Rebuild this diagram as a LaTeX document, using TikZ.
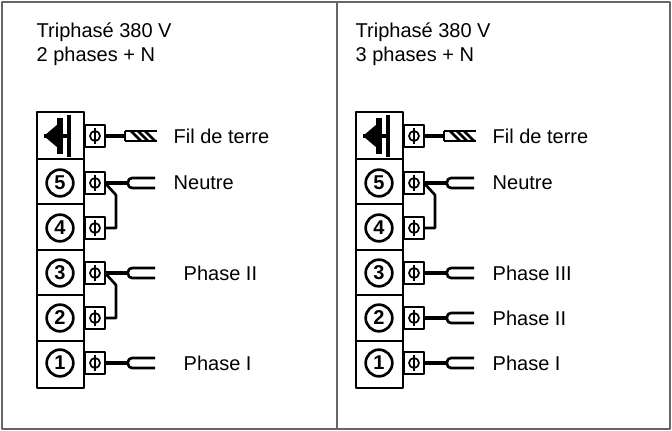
\documentclass[tikz,border=0pt]{standalone}
\usepackage{fontspec}
\setmainfont{Liberation Sans}
\begin{document}
\begin{tikzpicture}[x=0.75pt,y=-0.75pt,line join=round,
  frame/.style={draw=black!60,line width=1.2pt},
  blk/.style={draw,line width=1.8pt},
  num/.style={circle,draw,line width=2pt,inner sep=0pt,minimum size=20pt,font=\bfseries\fontsize{15}{15}\selectfont},
  lbl/.style={anchor=west,font=\fontsize{15}{17}\selectfont},
  ttl/.style={anchor=north west,align=left,font=\fontsize{15}{18}\selectfont},
  wire/.style={line width=3pt},
  jump/.style={line width=2pt}]
\useasboundingbox (0,0) rectangle (672,431);
\draw[frame] (2,2) rectangle (670,429);
\draw[frame] (337,2) -- (337,429);
\newcommand{\panel}[6]{%
 \begin{scope}[xshift=#1*0.75pt]
 \node[ttl] (t#6) at (32,18) {Triphasé 380 V\\#2};
 \draw[blk] (37,112) rectangle (84,388);
 \foreach \y in {159,204,250,295,341} \draw[blk] (37,\y) -- (84,\y);
 % earth symbol
 \fill (44,136) -- (58,124) -- (58,148) -- cycle;
 \fill (57,118) rectangle (63,154);
 \fill (67,115) rectangle (71,157);
 \fill (44,134) rectangle (71,138);
 \foreach \n/\y in {5/183,4/228,3/273,2/318,1/363}{
   \node[num] (n\n#6) at (60,\y) {\n};}
 \foreach \y in {136,183,228,273,318,363}{
   \draw[line width=1.8pt,fill=white] (85,\y-11) rectangle (105,\y+11);
   \draw[line width=1.3pt] (95,\y) circle (5);
   \draw[line width=1.3pt] (95,\y-8) -- (95,\y+8);}
 % earth cable
 \draw[wire] (105,136) -- (125,136);
 \draw[line width=1.5pt] (125,131) -- (157,131) (125,141) -- (157,141) (125,131)--(125,141);
 \foreach \xx in {131,138,145} \draw[line width=2pt] (\xx,131) -- (\xx+10,141);
 #3
 \node[lbl] (a#6) at (#4,136) {Fil de terre};
 #5
 \end{scope}}
\newcommand{\fork}[1]{\draw[wire] (105,#1) -- (127,#1);
  \draw[line width=2pt,rounded corners=3pt] (155,#1-5) -- (128,#1-5) -- (128,#1+5) -- (155,#1+5);}
% left panel
\panel{0}{2 phases + N}{%
  \fork{183}\fork{273}\fork{363}
  \draw[jump] (105,183) -- (116,195) -- (116,228) -- (105,228);
  \draw[jump] (105,273) -- (116,285) -- (116,318) -- (105,318);
}{169}{%
  \node[lbl] (bL) at (169,183) {Neutre};
  \node[lbl] (cL) at (179,273) {Phase II};
  \node[lbl] (dL) at (179,363) {Phase I};
}{L}
\panel{319}{3 phases + N}{%
  \fork{183}\fork{273}\fork{318}\fork{363}
  \draw[jump] (105,183) -- (116,195) -- (116,228) -- (105,228);
}{169}{%
  \node[lbl] (bR) at (169,183) {Neutre};
  \node[lbl] (cR) at (169,273) {Phase III};
  \node[lbl] (eR) at (169,318) {Phase II};
  \node[lbl] (dR) at (169,363) {Phase I};
}{R}
\end{tikzpicture}
\end{document}
